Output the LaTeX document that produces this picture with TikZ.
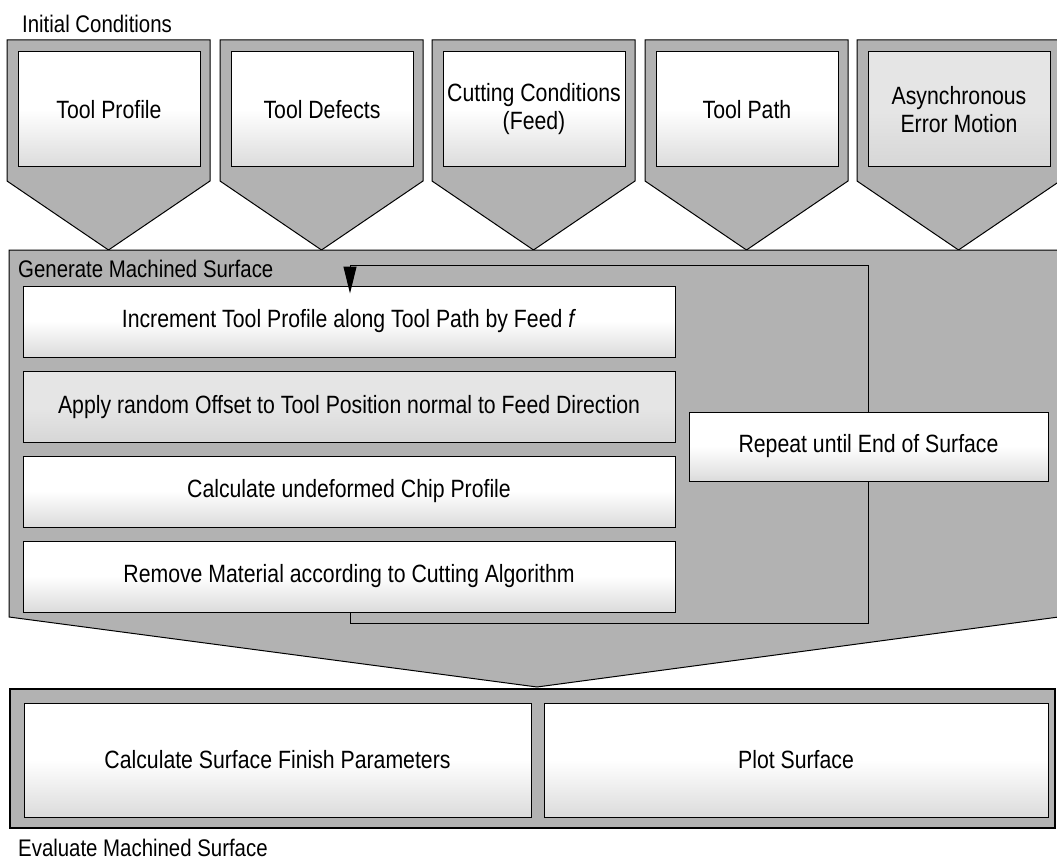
\documentclass[tikz,border=0pt]{standalone}
\usepackage{fontspec}
\setmainfont{Liberation Sans}[FakeStretch=0.85]
\usetikzlibrary{arrows.meta}
\tikzset{
  panel/.style={draw=black, line width=1pt, fill=black!30},
  stage/.style={draw=black, line width=1pt, top color=white, bottom color=black!14,
    middle color=white, inner sep=0pt, align=center, font=\fontsize{25}{28}\selectfont},
  greystage/.style={stage, top color=black!10, bottom color=black!16, middle color=black!10},
  caption/.style={anchor=west, inner sep=0pt, font=\fontsize{24}{27}\selectfont},
  loopline/.style={draw=black, line width=1pt},
}

\begin{document}
\begin{tikzpicture}[x=1pt, y=-1pt]
  \useasboundingbox (0,0) rectangle (1057,861);
  \clip (0,0) rectangle (1057,861);

  % initial conditions
  \node[caption] (init) at (22,24) {Initial Conditions};
  \path[panel] (7,40) -- (210,40) -- (210,181) -- (108.5,250) -- (7,181) -- cycle;
  \path[panel] (220,40) -- (423,40) -- (423,181) -- (321.5,250) -- (220,181) -- cycle;
  \path[panel] (432,40) -- (635,40) -- (635,181) -- (533.5,250) -- (432,181) -- cycle;
  \path[panel] (645,40) -- (848,40) -- (848,181) -- (746.5,250) -- (645,181) -- cycle;
  \path[panel] (857,40) -- (1060,40) -- (1060,181) -- (958.5,250) -- (857,181) -- cycle;

  \node[stage, minimum width=182pt, minimum height=115pt] (profile) at (109,109.5) {Tool Profile};
  \node[stage, minimum width=182pt, minimum height=115pt] (defects) at (322,109.5) {Tool Defects};
  \node[stage, minimum width=182pt, minimum height=115pt] (cutting) at (534,109.5) {Cutting Conditions\\(Feed)};
  \node[stage, minimum width=182pt, minimum height=115pt] (path) at (747,109.5) {Tool Path};
  \node[greystage, minimum width=182pt, minimum height=115pt] (async) at (959,109.5) {Asynchronous\\Error Motion};

  % generate machined surface
  \path[panel] (9,250) -- (1066,250) -- (1066,616) -- (537,687) -- (9,617) -- cycle;
  \node[caption] (generate) at (18,269) {Generate Machined Surface};

  \node[stage, minimum width=652pt, minimum height=71pt] (increment) at (349,321.5)
    {Increment Tool Profile along Tool Path by Feed \textit{f}};
  \node[greystage, minimum width=652pt, minimum height=71pt] (offset) at (349,407)
    {Apply random Offset to Tool Position normal to Feed Direction};
  \node[stage, minimum width=652pt, minimum height=71pt] (chip) at (349,491.5)
    {Calculate undeformed Chip Profile};
  \node[stage, minimum width=652pt, minimum height=71pt] (remove) at (349,576.5)
    {Remove Material according to Cutting Algorithm};

  \coordinate (looptop) at (350,265);
  \coordinate (loopcorner) at (868,623);
  \draw[loopline, -{Triangle[length=27pt, width=13pt]}, shorten >=-8pt]
    (remove.south -| looptop) -- (looptop |- loopcorner) -- (loopcorner)
    -- (loopcorner |- looptop) -- (looptop) -- (increment.north -| looptop);

  \node[stage, minimum width=359pt, minimum height=69pt] (repeat) at (868.5,446.5)
    {Repeat until End of Surface};

  % evaluate machined surface
  \path[panel, line width=1.8pt] (10,689) rectangle (1055,828);
  \node[stage, minimum width=507pt, minimum height=114pt] (finish) at (277.5,760)
    {Calculate Surface Finish Parameters};
  \node[stage, minimum width=504pt, minimum height=114pt] (plot) at (796,760)
    {Plot Surface};
  \node[caption] (evaluate) at (18,848) {Evaluate Machined Surface};
\end{tikzpicture}
\end{document}
